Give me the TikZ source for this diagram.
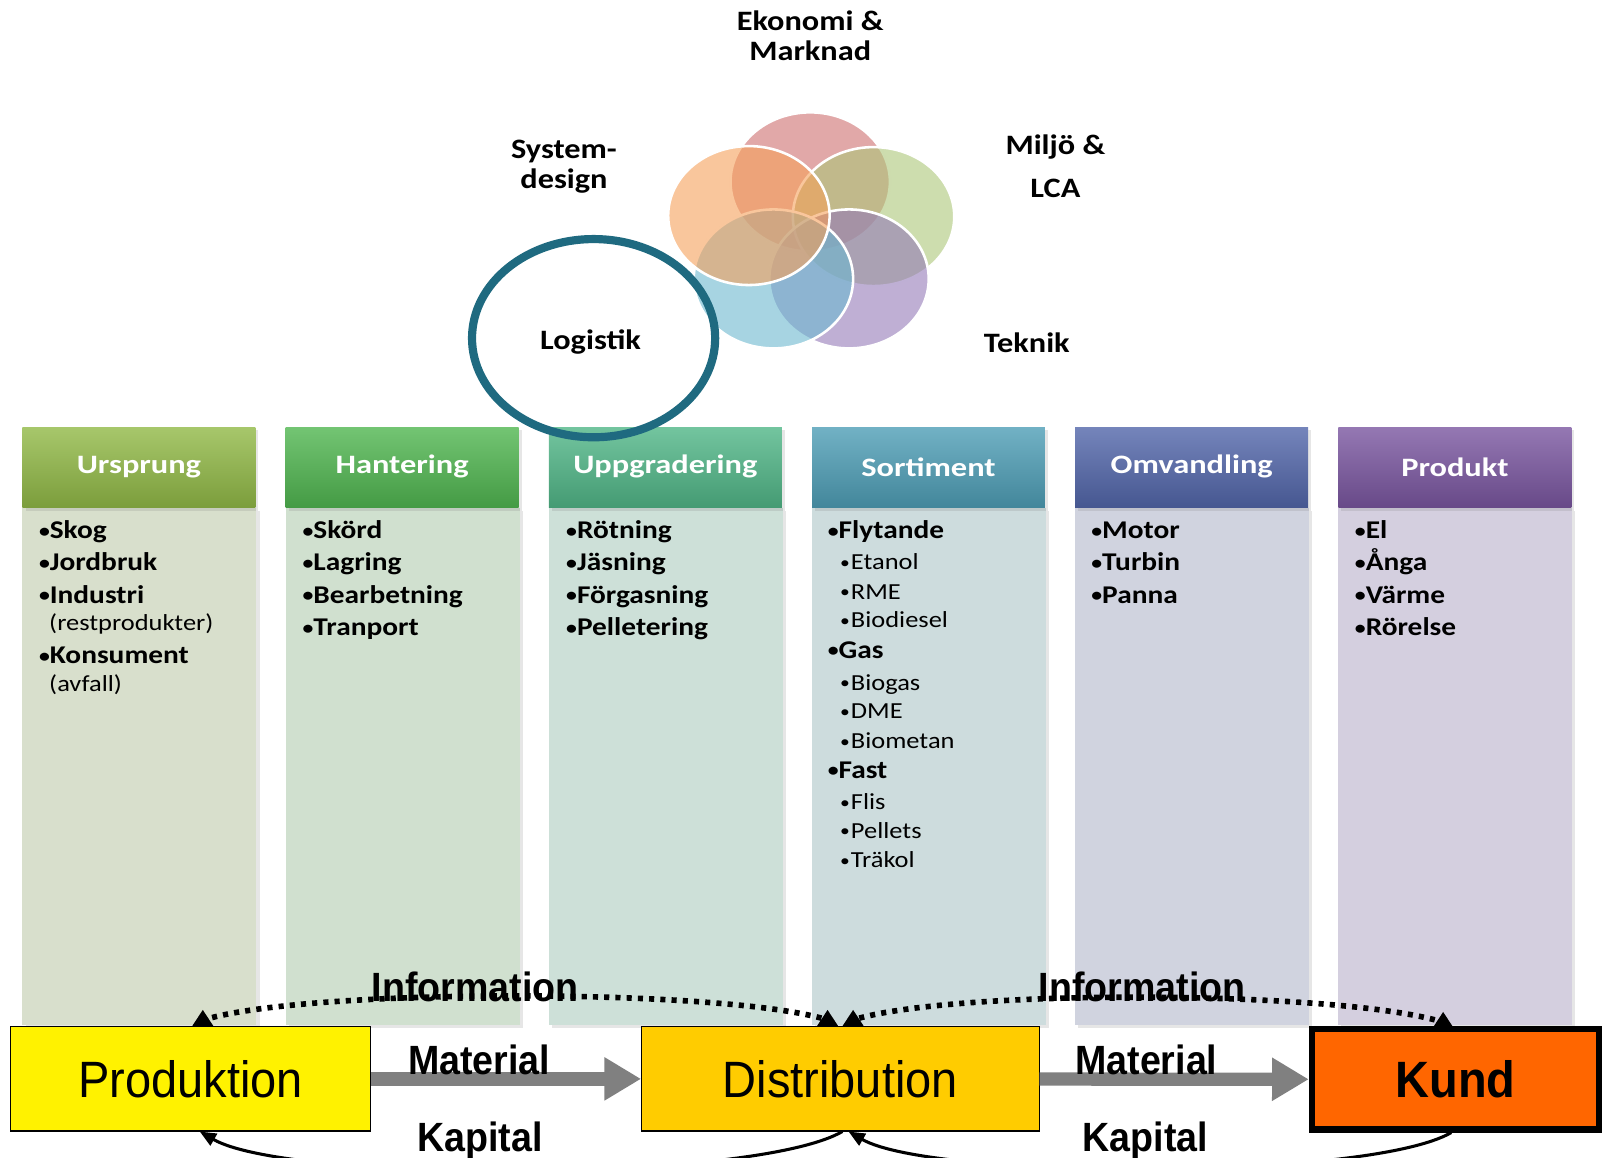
\documentclass[tikz,border=0pt]{standalone}
\usepackage{fontspec}
\setmainfont{Carlito}
\newfontfamily\arial{Liberation Sans}
\usepackage{graphicx}
\usetikzlibrary{arrows.meta, shadows}

\definecolor{ursH}{RGB}{145,185,70}
\definecolor{hanH}{RGB}{80,182,80}
\definecolor{uppH}{RGB}{80,182,135}
\definecolor{sorH}{RGB}{78,158,182}
\definecolor{omvH}{RGB}{82,102,170}
\definecolor{proH}{RGB}{122,86,160}
\definecolor{ursB}{RGB}{216,223,204}
\definecolor{hanB}{RGB}{208,224,207}
\definecolor{uppB}{RGB}{205,224,216}
\definecolor{sorB}{RGB}{205,220,221}
\definecolor{omvB}{RGB}{208,211,223}
\definecolor{proB}{RGB}{212,207,223}
\definecolor{vennred}{RGB}{205,110,110}
\definecolor{vennorange}{RGB}{245,160,90}
\definecolor{venngreen}{RGB}{172,198,120}
\definecolor{vennblue}{RGB}{108,184,207}
\definecolor{vennpurple}{RGB}{148,122,184}
\definecolor{logteal}{RGB}{31,106,128}
\definecolor{flowgray}{RGB}{128,128,128}
\definecolor{distgold}{RGB}{255,204,0}
\definecolor{kundorange}{RGB}{255,102,0}

\newcommand{\wide}[1]{\scalebox{1.15}[1]{#1}}
\newcommand{\narrow}[1]{\scalebox{0.92}[1]{#1}}
\newcommand{\bul}{\raisebox{0.06em}{\scalebox{0.74}{•}}}
\newcommand{\infotip}[1]{\fill (#1) ++(-10.5,0) -- ++(21,0) -- ++(-10.5,16) -- cycle;}

\tikzset{
  venn/.style={draw=white, line width=2.5pt, fill opacity=0.6},
  topic/.style={font=\bfseries\fontsize{27.5}{30}\selectfont, align=center, inner sep=0pt},
  head/.style={font=\bfseries\fontsize{26}{30}\selectfont, text=white},
  item/.style={anchor=base west, inner sep=0pt, font=\bfseries\fontsize{25}{28}\selectfont},
  subitem/.style={anchor=base west, inner sep=0pt, font=\fontsize{22.5}{26}\selectfont},
  colshadow/.style={drop shadow={shadow xshift=3pt, shadow yshift=-3pt, opacity=0.2}},
  flowbox/.style={draw, line width=1pt, minimum height=102pt, inner sep=0pt,
    font=\arial\fontsize{50}{54}\selectfont},
  flowlabel/.style={anchor=base, inner sep=0pt, font=\arial\bfseries\fontsize{40}{44}\selectfont},
  flow/.style={line width=13pt, draw=flowgray, -{Triangle[length=36pt,width=40pt]}},
  info/.style={line width=5.5pt, dash pattern=on 5pt off 6pt},
  money/.style={line width=3pt, -{Triangle[length=16pt,width=13pt]}}
}

\begin{document}
\begin{tikzpicture}[x=1pt, y=1pt]
\useasboundingbox (0,0) rectangle (1568,1133);

% kolumner
\foreach \i/\name/\hc/\bc in {0/Ursprung/ursH/ursB, 1/Hantering/hanH/hanB,
    2/Uppgradering/uppH/uppB, 3/Sortiment/sorH/sorB,
    4/Omvandling/omvH/omvB, 5/Produkt/proH/proB}{
  \pgfmathsetmacro{\xl}{22+257.6*\i}
  \fill[\bc, colshadow] (\xl,130) rectangle ++(229,506);
  \shade[top color=\hc!80!white, bottom color=\hc!85!black, colshadow] (\xl,636) rectangle ++(228,79);
  \node[head] (head-\i) at (\xl+114,676) {\scalebox{1.22}[1]{\name}};
}

% Ursprung
\foreach \t/\y [count=\n] in {Skog/605.5, Jordbruk/574.5, Industri/542.5, Konsument/483.5}
  \node[item] (urs-\n) at (38,\y) {\wide{\bul\t}};
\node[subitem] (urs-rest) at (48,515.5) {\wide{(restprodukter)}};
\node[subitem] (urs-avf) at (48,456.5) {\wide{(avfall)}};

% Hantering
\foreach \t/\y [count=\n] in {Skörd/605.5, Lagring/574.5, Bearbetning/542.5, Tranport/510.5}
  \node[item] (han-\n) at (296,\y) {\wide{\bul\t}};

% Uppgradering
\foreach \t/\y [count=\n] in {Rötning/605.5, Jäsning/574.5, Förgasning/542.5, Pelletering/510.5}
  \node[item] (upp-\n) at (554,\y) {\wide{\bul\t}};

% Sortiment
\foreach \t/\y [count=\n] in {Flytande/605.5, Gas/488.5, Fast/371.5}
  \node[item] (sor-\n) at (810,\y) {\wide{\bul\t}};
\foreach \t/\y [count=\n] in {Etanol/575.5, RME/546.5, Biodiesel/518.5, Biogas/457.5,
    DME/429.5, Biometan/400.5, Flis/340.5, Pellets/312.5, Träkol/283.5}
  \node[subitem] (sorsub-\n) at (822,\y) {\wide{\bul\kern1pt\t}};

% Omvandling
\foreach \t/\y [count=\n] in {Motor/605.5, Turbin/574.5, Panna/542.5}
  \node[item] (omv-\n) at (1068,\y) {\wide{\bul\t}};

% Produkt
\foreach \t/\y [count=\n] in {El/605.5, Ånga/574.5, Värme/542.5, Rörelse/510.5}
  \node[item] (pro-\n) at (1326,\y) {\wide{\bul\t}};

% Venn-diagram
\draw[venn, fill=vennred] (793,955) ellipse [x radius=78, y radius=68];
\draw[venn, fill=venngreen] (855,921) ellipse [x radius=79, y radius=68];
\draw[venn, fill=vennpurple] (831,860) ellipse [x radius=78, y radius=68];
\draw[venn, fill=vennblue] (757,860) ellipse [x radius=78, y radius=68];
\draw[venn, fill=vennorange] (733,922) ellipse [x radius=79, y radius=68];

% logistik-ring
\draw[logteal, line width=8pt] (581,802) ellipse [x radius=119, y radius=97];

\node[topic] (eko) at (793,1098) {\wide{Ekonomi \&}\\\wide{Marknad}};
\node[topic] (sys) at (552,970) {\wide{System-}\\\wide{design}};
\node[topic] (milj) at (1033,970) {\wide{Miljö \&}\\[12pt]\wide{LCA}};
\node[topic] (logi) at (578,798) {\wide{Logistik}};
\node[topic] (tek) at (1005,798) {\wide{Teknik}};

% flödeskedja
\node[flowbox, fill=yellow, minimum width=353pt] (prod) at (186.5,77) {\narrow{Produktion}};
\node[flowbox, fill=distgold, minimum width=389pt] (dist) at (822.5,77) {\narrow{Distribution}};
\node[flowbox, fill=kundorange, line width=6pt, minimum width=281pt, minimum height=98pt,
  font=\arial\bfseries\fontsize{50}{54}\selectfont] (kund) at (1424.5,76.5) {\narrow{Kund}};

\draw[flow] (prod) -- (dist);
\draw[flow] (dist) -- (kund);
\node[flowlabel] (mat1) at (469,81) {\narrow{Material}};
\node[flowlabel] (mat2) at (1122,81) {\narrow{Material}};

% information
\coordinate (tip-prod) at ([xshift=12pt]prod.north);
\coordinate (tip-dist1) at ([xshift=-12.5pt]dist.north);
\coordinate (tip-dist2) at ([xshift=12.5pt]dist.north);
\coordinate (tip-kund) at ([xshift=-12pt,yshift=-2pt]kund.north);
\draw[info] ([shift={(-6,8)}]tip-dist1) to[out=165, in=15, looseness=0.48] ([shift={(7,8)}]tip-prod);
\draw[info] ([shift={(6,8)}]tip-dist2) to[out=15, in=165, looseness=0.5] ([shift={(-7,8)}]tip-kund);
\infotip{tip-prod}
\infotip{tip-dist1}
\infotip{tip-dist2}
\infotip{tip-kund}
\node[flowlabel] (inf1) at (465,153) {\narrow{Information}};
\node[flowlabel] (inf2) at (1118,153) {\narrow{Information}};

% kapital
\draw[money] ([xshift=2pt]dist.south) to[out=-150, in=-30, looseness=0.41] ([xshift=9pt]prod.south);
\draw[money] ([xshift=-4pt]kund.south) to[out=-150, in=-30, looseness=0.41] ([xshift=8pt]dist.south);
\node[flowlabel] (kap1) at (470,6) {\narrow{Kapital}};
\node[flowlabel] (kap2) at (1121,6) {\narrow{Kapital}};
\end{tikzpicture}
\end{document}
